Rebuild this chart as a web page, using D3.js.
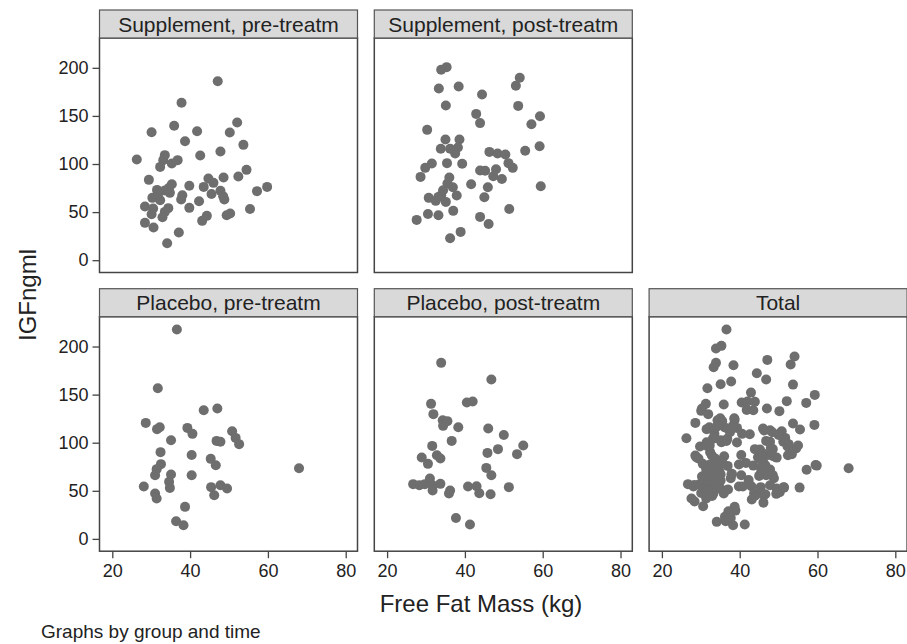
<!DOCTYPE html>
<html><head><meta charset="utf-8">
<script src="https://cdn.jsdelivr.net/npm/d3@7"></script>
<style>body{margin:0;background:#fff}svg{display:block}text{font-family:"Liberation Sans",Arial,Helvetica,sans-serif;fill:#222}</style>
</head><body>
<svg id="chart" width="907" height="644"></svg>
<script>
// Panel titles
const panelTitles = ["Supplement, pre-treatm", "Supplement, post-treatm", "Placebo, pre-treatm", "Placebo, post-treatm", "Total"];
const xTicks = [20, 40, 60, 80];
const yTicks = [0, 50, 100, 150, 200];

// [Free Fat Mass (kg), IGFngml]
const suppPre = [[47.1,186.1],[37.8,163.6],[35.9,139.7],[30.1,133.1],[41.8,134.1],[52.1,143.2],[50.2,132.8],[38.7,123.7],[53.7,119.9],[47.8,113.0],[42.6,108.8],[26.3,104.7],[33.5,109.2],[33.1,104],[36.8,104],[35.3,100.5],[32.3,97.0],[54.5,93.9],[29.4,83.5],[44.7,84.9],[46.0,80.4],[48.6,86.0],[52.4,87.0],[35.3,79.0],[39.8,77.3],[43.5,76.2],[31.5,73.1],[33.5,72.5],[34.6,75.2],[47.8,72.1],[45.5,68.9],[59.8,76.2],[57.2,71.8],[38.0,67.6],[30.3,64.8],[32.3,62.4],[37.7,63.1],[48.8,63.1],[42.3,61.3],[28.4,55.8],[30.5,53.8],[34.4,54.1],[39.8,54.4],[33.5,50.2],[30.1,47.8],[32.9,44.7],[44.3,46.1],[43.1,40.9],[49.4,46.8],[50.3,48.6],[55.4,53.3],[28.4,38.8],[30.6,34.0],[37.1,28.8],[34.1,17.7],[48.5,66.5],[34.8,70.0],[31.8,69.0]];
const suppPost = [[35.3,200.7],[33.9,197.9],[33.3,178.5],[38.4,180.6],[44.4,172.3],[54.1,189.6],[53.1,181.3],[35.1,160.8],[53.7,160.4],[42.9,152.1],[43.9,142.5],[59.3,149.7],[57.1,141.4],[30.3,135.5],[35.0,125.5],[38.6,125.5],[33.8,115.8],[36.2,115.8],[38.2,117.2],[37.5,110.9],[46.3,112.6],[48.4,110.9],[50.4,109.9],[55.5,113.7],[59.2,118.5],[31.5,100.5],[29.8,96.0],[35.4,100.9],[39.3,100.2],[51.2,100.9],[52.3,96.0],[28.6,86.6],[43.9,93.3],[45.2,92.9],[48.0,94.6],[47.3,87.3],[49.5,84.5],[36.0,86.0],[35.5,79.8],[36.9,75.9],[41.6,79.0],[45.9,75.9],[59.5,76.9],[34.4,72.8],[33.9,67.6],[37.9,67.3],[30.7,64.8],[32.5,61.7],[35.1,60.6],[45.0,65.5],[37.0,51.3],[51.4,53.3],[30.5,48.1],[33.2,46.8],[27.6,41.9],[43.9,45.0],[46.1,37.7],[38.9,29.4],[36.2,22.9],[33.2,65.8]];
const placPre = [[36.6,217.7],[31.7,156.7],[43.5,133.8],[47.0,135.6],[28.6,120.6],[31.5,114.1],[32.2,116.0],[39.3,115.4],[40.6,109.2],[35.1,102.6],[46.8,101.9],[47.8,100.9],[50.8,112.0],[51.7,105.0],[52.6,98.5],[32.4,90.2],[40.4,87.3],[45.3,83.2],[46.6,76.6],[32.5,77.7],[31.4,72.5],[31.0,66.2],[68.0,73.5],[35.1,67.0],[40.4,66.2],[34.6,59.3],[34.8,53.0],[28.1,54.5],[45.4,53.8],[47.8,55.8],[49.5,52.4],[46.2,45.4],[31.0,47.2],[31.4,42.0],[38.7,33.3],[36.4,18.4],[38.3,14.2]];
const placPost = [[33.9,183.0],[46.8,165.7],[31.3,140.4],[40.5,141.8],[42.0,142.9],[31.9,129.7],[34.3,123.4],[35.5,122.4],[34.4,117.5],[38.3,116.1],[46.0,114.8],[50.0,108.1],[36.6,101.9],[31.6,96.7],[55.0,97.1],[53.4,88.1],[48.5,93.3],[45.8,89.4],[28.9,84.6],[32.8,87.0],[33.7,83.6],[30.5,78.0],[45.5,73.8],[46.8,66.2],[26.7,56.9],[28.3,55.8],[29.7,56.9],[31.0,62.8],[31.7,55.8],[31.7,50.3],[33.7,57.2],[36.2,50.3],[35.9,47.2],[40.8,54.5],[43.0,54.8],[43.7,47.5],[46.6,46.5],[51.3,53.8],[37.7,21.8],[41.3,15.0]];
const total = [].concat(suppPre, suppPost, placPre, placPost);

const panels = [
  {title: panelTitles[0], data: suppPre, col: 0, row: 0},
  {title: panelTitles[1], data: suppPost, col: 1, row: 0},
  {title: panelTitles[2], data: placPre, col: 0, row: 1},
  {title: panelTitles[3], data: placPost, col: 1, row: 1},
  {title: panelTitles[4], data: total, col: 2, row: 1}
];

const svg = d3.select("#chart");
const colLeft = [99.5, 374.3, 649.1];
const panelW = 258;
const headTop = [10, 288.7];
const headH = 28;
const plotH = 234.5;

const x = d3.scaleLinear().domain([16.71, 83.03]).range([0, panelW]);
const y = d3.scaleLinear().domain([-12.8, 231]).range([plotH, 0]);

panels.forEach(p => {
  const gx = colLeft[p.col];
  const gyHead = headTop[p.row];
  const gy = gyHead + headH;
  const g = svg.append("g").attr("transform", `translate(${gx},${gy})`);

  // header
  svg.append("rect").attr("x", gx).attr("y", gyHead).attr("width", panelW).attr("height", headH)
    .attr("fill", "#d9d9d9").attr("stroke", "#555").attr("stroke-width", 1.2);
  svg.append("text").attr("x", gx + panelW / 2).attr("y", gyHead + 21.5)
    .attr("text-anchor", "middle").style("font-size", "21px").text(p.title);

  // frame
  g.append("rect").attr("width", panelW).attr("height", plotH)
    .attr("fill", "#fff").attr("stroke", "#444").attr("stroke-width", 1.5);

  // points
  g.selectAll("circle").data(p.data).enter().append("circle")
    .attr("cx", d => x(d[0])).attr("cy", d => y(d[1])).attr("r", 5)
    .attr("fill", "#6e6e6e");

  if (p.col === 0) {
    const ay = g.append("g").call(d3.axisLeft(y).tickValues(yTicks).tickSize(7).tickPadding(4));
    ay.select(".domain").remove();
    ay.selectAll("line").attr("stroke", "#444").attr("stroke-width", 1.3);
    ay.selectAll("text").style("font-size", "18px").attr("fill", "#222").style("font-family", '"Liberation Sans",Arial,sans-serif');
  }
  if (p.row === 1) {
    const ax = g.append("g").attr("transform", `translate(0,${plotH})`)
      .call(d3.axisBottom(x).tickValues(xTicks).tickSize(7).tickPadding(6));
    ax.select(".domain").remove();
    ax.selectAll("line").attr("stroke", "#444").attr("stroke-width", 1.3);
    ax.selectAll("text").style("font-size", "18px").attr("fill", "#222").style("font-family", '"Liberation Sans",Arial,sans-serif');
  }
});

// axis titles
svg.append("text").attr("transform", "translate(36,295) rotate(-90)")
  .attr("text-anchor", "middle").style("font-size", "24px").text("IGFngml");
svg.append("text").attr("x", 481).attr("y", 612)
  .attr("text-anchor", "middle").style("font-size", "24px").text("Free Fat Mass (kg)");
svg.append("text").attr("x", 41).attr("y", 638)
  .style("font-size", "19px").text("Graphs by group and time");
</script>
</body></html>
